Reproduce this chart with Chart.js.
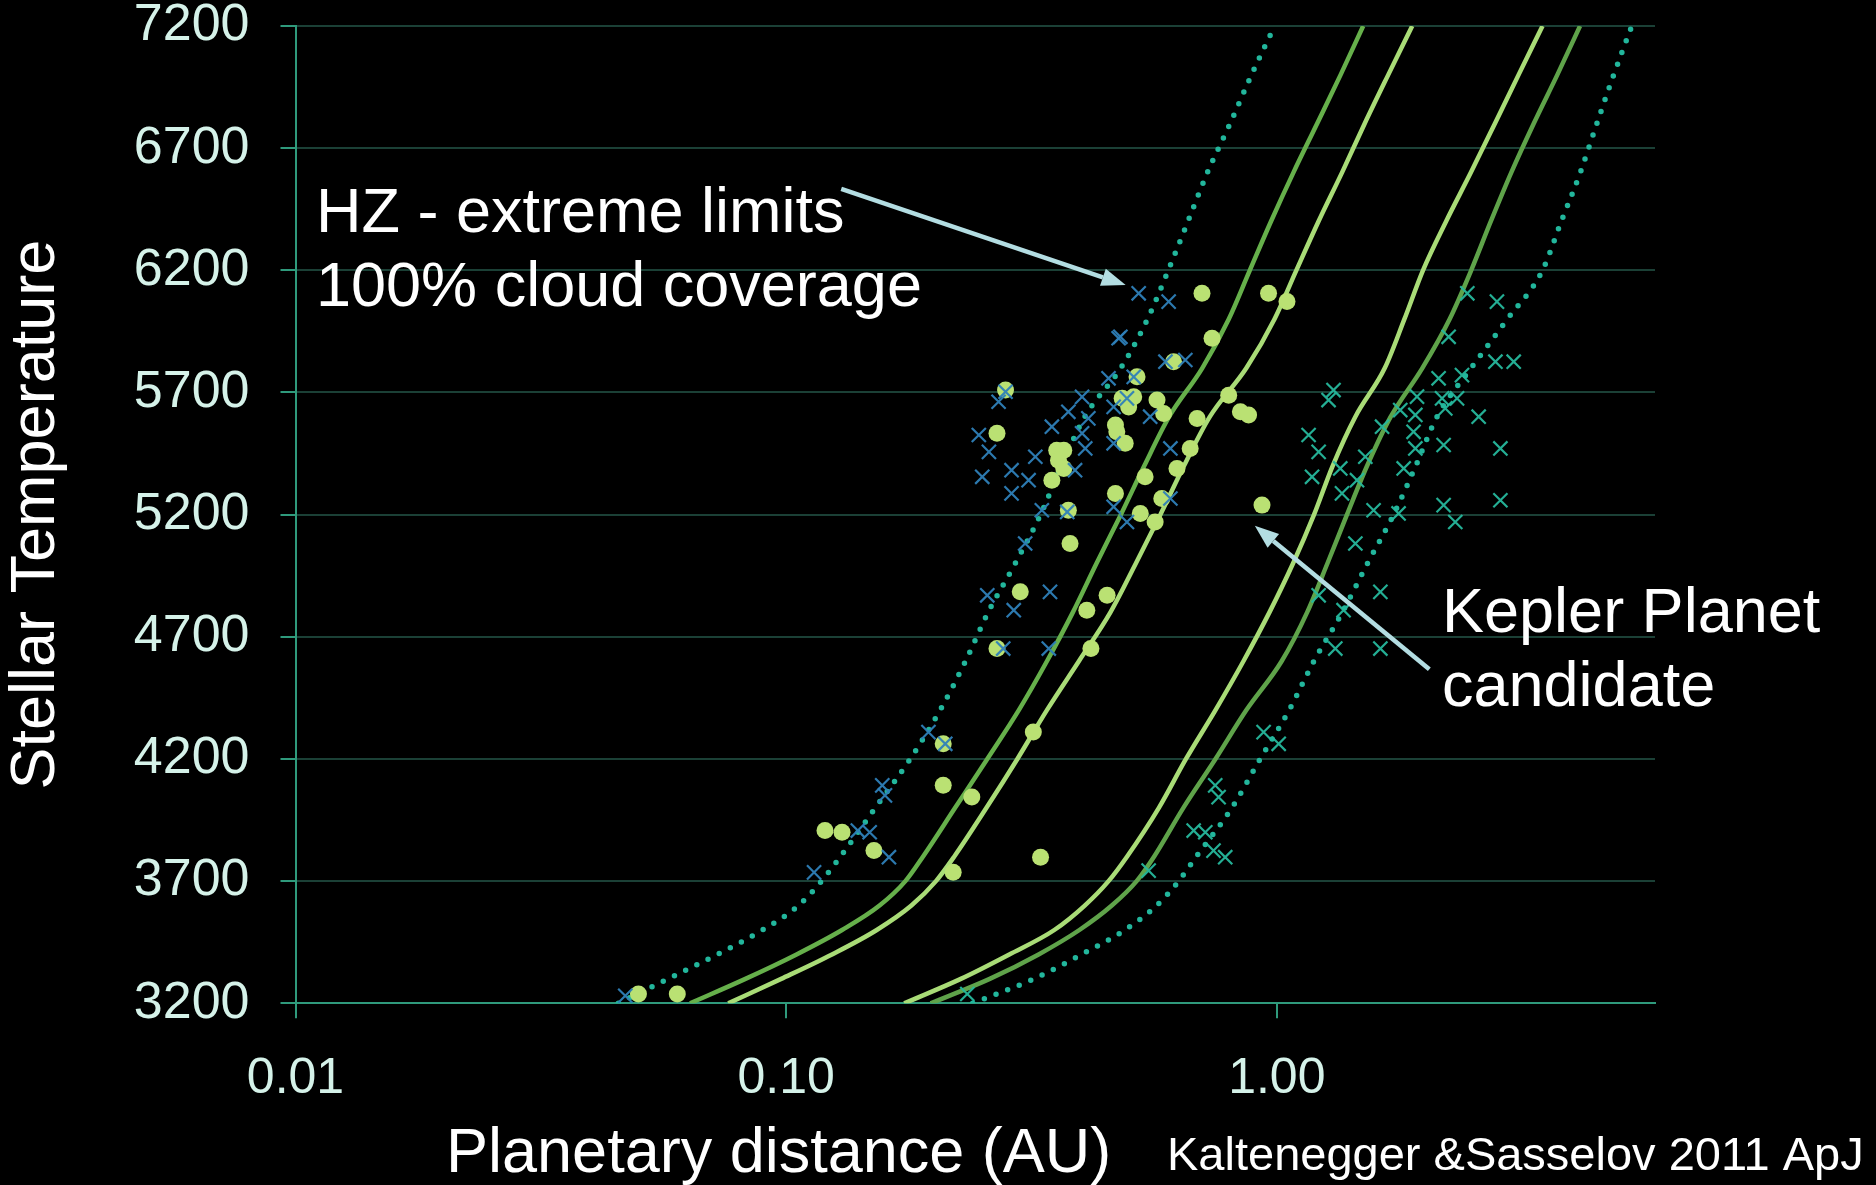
<!DOCTYPE html>
<html>
<head>
<meta charset="utf-8">
<title>Habitable zone and Kepler candidates</title>
<script src="https://cdn.jsdelivr.net/npm/chart.js@4.4.1/dist/chart.umd.min.js"></script>
<style>
  html, body { margin: 0; padding: 0; background: #000; }
  canvas { display: block; }
</style>
</head>
<body>
<canvas id="hzChart" width="1876" height="1185"></canvas>
<script>
// stellar temperature levels shared by the HZ boundary curves (K)
const teffLevels = [3200, 3300, 3400, 3500, 3600, 3700, 3800, 4000, 4200, 4400, 4600, 4800,
  5000, 5200, 5400, 5600, 5800, 6000, 6200, 6400, 6600, 6800, 7000, 7200];

// HZ boundaries, planetary distance in AU at each level
const innerExtreme = [0.0455, 0.0575, 0.0724, 0.0895, 0.106, 0.118, 0.129, 0.152, 0.179, 0.206, 0.232, 0.258,
  0.293, 0.33, 0.364, 0.406, 0.481, 0.545, 0.601, 0.659, 0.722, 0.803, 0.888, 0.99];
const innerDark = [0.0637, 0.0826, 0.105, 0.130, 0.155, 0.175, 0.190, 0.221, 0.257, 0.298, 0.340, 0.384,
  0.429, 0.481, 0.537, 0.603, 0.705, 0.798, 0.881, 0.973, 1.081, 1.208, 1.349, 1.50];
const innerLight = [0.0762, 0.0977, 0.124, 0.153, 0.180, 0.202, 0.220, 0.256, 0.296, 0.340, 0.395, 0.458,
  0.516, 0.579, 0.647, 0.730, 0.867, 0.989, 1.096, 1.216, 1.358, 1.510, 1.687, 1.888];
const outerLight = [0.174, 0.227, 0.285, 0.352, 0.406, 0.454, 0.495, 0.575, 0.653, 0.75, 0.855, 0.966,
  1.079, 1.191, 1.30, 1.445, 1.66, 1.82, 1.986, 2.213, 2.486, 2.782, 3.11, 3.48];
const outerDark = [0.197, 0.260, 0.327, 0.396, 0.461, 0.518, 0.562, 0.645, 0.75, 0.867, 1.023, 1.153,
  1.268, 1.39, 1.528, 1.706, 1.98, 2.25, 2.49, 2.73, 3.005, 3.338, 3.73, 4.15];
const outerExtreme = [0.24, 0.32, 0.40, 0.49, 0.569, 0.631, 0.685, 0.81, 0.925, 1.06, 1.19, 1.36,
  1.53, 1.73, 1.92, 2.12, 2.49, 2.95, 3.48, 3.80, 4.155, 4.49, 4.86, 5.29];

// Kepler planet candidates (dots)
const candAU = [0.050, 0.060, 0.120, 0.130, 0.151, 0.209, 0.209, 0.239, 0.219, 0.319, 0.330, 0.300, 0.269,
  0.410, 0.418, 0.451, 0.379, 0.376, 0.280, 0.269, 0.356, 0.368, 0.359, 0.368, 0.348, 0.469, 0.472, 0.491,
  0.484, 0.499, 0.511, 0.519, 0.570, 0.588, 0.616, 0.539, 0.469, 0.527, 0.565, 0.583, 0.626, 0.666, 0.688,
  0.704, 0.738, 0.798, 0.843, 0.876, 0.933, 0.962, 1.049];
const candTeff = [3238, 3238, 3907, 3900, 3825, 4262, 4092, 4044, 3736, 4310, 3798, 4884, 4652,
  4809, 4652, 4870, 5082, 5218, 5710, 5533, 5464, 5464, 5423, 5389, 5341, 5567, 5539, 5492,
  5676, 5641, 5683, 5764, 5669, 5614, 5826, 5355, 5287, 5205, 5170, 5266, 5389, 5471, 5594,
  6106, 5922, 5689, 5621, 5608, 5239, 6106, 6072];

// inner-edge crosses
const innerAU = [0.047, 0.114, 0.140, 0.148, 0.162, 0.157, 0.159, 0.195, 0.211, 0.257, 0.291, 0.277, 0.343,
  0.345, 0.280, 0.271, 0.247, 0.259, 0.251, 0.288, 0.288, 0.312, 0.322, 0.348, 0.376, 0.401, 0.413, 0.401,
  0.407, 0.388, 0.374, 0.332, 0.307, 0.454, 0.480, 0.465, 0.511, 0.465, 0.552, 0.593, 0.607, 0.465, 0.495,
  0.607, 0.523, 0.602, 0.476, 0.651, 0.495];
const innerTeff = [3231, 3736, 3907, 3900, 3798, 4092, 4051, 4310, 4262, 4870, 4809, 4652, 4652,
  4884, 5703, 5662, 5526, 5457, 5355, 5382, 5287, 5341, 5437, 5560, 5621, 5682, 5594, 5533,
  5471, 5382, 5211, 5218, 5082, 5758, 5928, 5641, 5764, 5492, 5601, 5826, 5471, 5232, 5170,
  5266, 6106, 6072, 5922, 5833, 5676];

// outer-edge crosses
const outerAU = [0.234, 0.548, 0.677, 0.715, 0.743, 0.785, 0.749, 0.761, 0.940, 1.009, 1.217, 1.368, 1.316,
  1.626, 1.626, 1.446, 1.575, 1.771, 2.311, 2.188, 2.856, 1.358, 1.457, 1.180, 1.347, 1.814, 1.515, 1.217,
  1.916, 2.856, 2.188, 1.161, 1.900, 1.639, 2.579, 1.916, 1.785, 2.205, 2.330, 2.172, 1.931, 1.275, 1.305,
  2.137, 2.385, 2.790, 3.040, 2.240, 2.445, 2.810];
const outerTeff = [3238, 3743, 3907, 3900, 3825, 3798, 4092, 4044, 4310, 4262, 4870, 4809, 4652,
  4884, 4652, 5082, 5218, 5205, 5170, 5239, 5259, 5287, 5341, 5355, 5389, 5389, 5437, 5457,
  5471, 5471, 5485, 5526, 5539, 5560, 5601, 5608, 5628, 5635, 5676, 5676, 5683, 5669, 5710,
  5758, 5771, 5826, 5826, 5928, 6106, 6072];

const xTicks = [0.01, 0.1, 1];

const FONT = '"Liberation Sans", Arial, Helvetica, sans-serif';
const AXIS_TEAL = '#2f9a7c';
const GRID_TEAL = '#1b4036';
const TICK_TEXT = '#d5f2e9';
const ARROW = '#b3dde2';

const curve = (au) => au.map((d, i) => ({ x: d, y: teffLevels[i] }));
const points = (au, teff) => au.map((d, i) => ({ x: d, y: teff[i] }));

function hzLine(label, au, color, dotted) {
  return {
    label: label,
    data: curve(au),
    showLine: true,
    borderColor: color,
    borderWidth: dotted ? 5.5 : 4.5,
    borderDash: dotted ? [0, 12.5] : [],
    borderCapStyle: dotted ? 'round' : 'butt',
    pointRadius: 0,
    cubicInterpolationMode: 'monotone',
    fill: false,
    order: 3
  };
}

function crosses(label, au, teff, color) {
  return {
    label: label,
    data: points(au, teff),
    pointStyle: 'crossRot',
    pointRadius: 10,
    borderColor: color,
    borderWidth: 2.2,
    clip: false,
    order: 0
  };
}

// arrows + free text, arrows given in data units
const arrows = [
  { from: [0.1295, 6533], to: [0.492, 6140] },
  { from: [2.046, 4567], to: [0.902, 5155] }
];
const labels = [
  { text: 'HZ - extreme limits', x: 316, y: 232, size: 63 },
  { text: '100% cloud coverage', x: 316, y: 306, size: 63 },
  { text: 'Kepler Planet', x: 1442, y: 632, size: 63 },
  { text: 'candidate', x: 1442, y: 706, size: 63 },
  { text: 'Planetary distance (AU)', x: 446, y: 1172, size: 63 },
  { text: 'Kaltenegger &Sasselov 2011 ApJ', x: 1167, y: 1170, size: 47 }
];

function drawArrow(ctx, x1, y1, x2, y2) {
  const ang = Math.atan2(y2 - y1, x2 - x1);
  const head = 24, half = 9;
  const bx = x2 - head * Math.cos(ang), by = y2 - head * Math.sin(ang);
  ctx.strokeStyle = ARROW;
  ctx.fillStyle = ARROW;
  ctx.lineWidth = 4.5;
  ctx.beginPath();
  ctx.moveTo(x1, y1);
  ctx.lineTo(bx, by);
  ctx.stroke();
  ctx.beginPath();
  ctx.moveTo(x2, y2);
  ctx.lineTo(bx + half * Math.sin(ang), by - half * Math.cos(ang));
  ctx.lineTo(bx - half * Math.sin(ang), by + half * Math.cos(ang));
  ctx.closePath();
  ctx.fill();
}

const notes = {
  id: 'notes',
  afterDatasetsDraw(chart) {
    const { ctx, scales } = chart;
    ctx.save();
    arrows.forEach(a => {
      drawArrow(ctx,
        scales.x.getPixelForValue(a.from[0]), scales.y.getPixelForValue(a.from[1]),
        scales.x.getPixelForValue(a.to[0]), scales.y.getPixelForValue(a.to[1]));
    });
    ctx.fillStyle = '#ffffff';
    ctx.textAlign = 'left';
    ctx.textBaseline = 'alphabetic';
    labels.forEach(l => {
      ctx.font = l.size + 'px ' + FONT;
      ctx.fillText(l.text, l.x, l.y);
    });
    ctx.restore();
  }
};

const blackBg = {
  id: 'blackBg',
  beforeDraw(chart) {
    const { ctx, width, height } = chart;
    ctx.save();
    ctx.fillStyle = '#000';
    ctx.fillRect(0, 0, width, height);
    ctx.restore();
  }
};

new Chart(document.getElementById('hzChart'), {
  type: 'scatter',
  data: {
    datasets: [
      crosses('Inner HZ planets', innerAU, innerTeff, 'rgba(46,128,184,0.95)'),
      crosses('Outer HZ planets', outerAU, outerTeff, 'rgba(38,183,156,0.95)'),
      {
        label: 'Kepler candidates',
        data: points(candAU, candTeff),
        pointStyle: 'circle',
        pointRadius: 8.5,
        backgroundColor: '#bae173',
        borderWidth: 0,
        clip: false,
        order: 1
      },
      hzLine('Inner extreme', innerExtreme, '#22b69c', true),
      hzLine('Inner limit A', innerDark, '#66b04b', false),
      hzLine('Inner limit B', innerLight, '#a9dc77', false),
      hzLine('Outer limit B', outerLight, '#a9dc77', false),
      hzLine('Outer limit A', outerDark, '#5fa34a', false),
      hzLine('Outer extreme', outerExtreme, '#22b69c', true)
    ]
  },
  options: {
    responsive: false,
    animation: false,
    events: [],
    layout: { padding: { left: 0, right: 221, top: 26, bottom: 0 } },
    plugins: {
      legend: { display: false },
      tooltip: { enabled: false }
    },
    scales: {
      x: {
        type: 'logarithmic',
        min: 0.01,
        max: 5.9,
        afterBuildTicks: (s) => { s.ticks = xTicks.map(v => ({ value: v })); },
        afterFit: (s) => { s.height = 181.7; s.paddingLeft = 0; s.paddingRight = 0; },
        ticks: {
          color: TICK_TEXT,
          font: { family: FONT, size: 50, lineHeight: 1 },
          padding: 36,
          maxRotation: 0,
          autoSkip: false,
          callback: (v) => Number(v).toFixed(2)
        },
        grid: { drawOnChartArea: false, tickLength: 15, color: AXIS_TEAL, lineWidth: 2 },
        border: { color: AXIS_TEAL, width: 2 }
      },
      y: {
        min: 3200,
        max: 7200,
        // keep the plot box fixed: the tick labels may hang over its top edge
        afterFit: (s) => { s.width = 295.5; s.paddingTop = 0; s.paddingBottom = 0; },
        ticks: {
          stepSize: 500,
          color: TICK_TEXT,
          font: { family: FONT, size: 52, lineHeight: 1 },
          padding: 31,
          callback: (v) => String(v)
        },
        grid: { color: GRID_TEAL, lineWidth: 2, tickLength: 15, tickColor: AXIS_TEAL },
        border: { color: AXIS_TEAL, width: 2 },
        title: {
          display: true,
          text: 'Stellar Temperature',
          color: '#ffffff',
          font: { family: FONT, size: 63, lineHeight: 1 },
          padding: { top: 5, bottom: 0 }
        }
      }
    }
  },
  plugins: [blackBg, notes]
});
</script>
</body>
</html>
